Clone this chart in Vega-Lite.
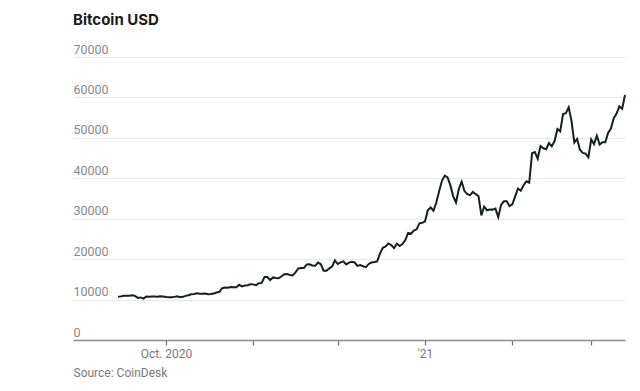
{
  "$schema": "https://vega.github.io/schema/vega-lite/v6.json",
  "autosize": "none",
  "width": 552,
  "height": 283,
  "padding": {"left": 73, "top": 57, "right": 15, "bottom": 51},
  "background": "white",
  "title": {
    "text": "Bitcoin USD",
    "anchor": "start",
    "frame": "group",
    "font": "Inter",
    "fontSize": 15,
    "fontWeight": "bold",
    "color": "#1b1b1b",
    "offset": 15
  },
  "config": {"view": {"stroke": null}},
  "data": {
    "values": [
      {"date": "2020-09-14", "price": 10680},
      {"date": "2020-09-15", "price": 10790},
      {"date": "2020-09-16", "price": 10950},
      {"date": "2020-09-17", "price": 10940},
      {"date": "2020-09-18", "price": 10930},
      {"date": "2020-09-19", "price": 11080},
      {"date": "2020-09-20", "price": 10920},
      {"date": "2020-09-21", "price": 10420},
      {"date": "2020-09-22", "price": 10530},
      {"date": "2020-09-23", "price": 10240},
      {"date": "2020-09-24", "price": 10740},
      {"date": "2020-09-25", "price": 10690},
      {"date": "2020-09-26", "price": 10730},
      {"date": "2020-09-27", "price": 10770},
      {"date": "2020-09-28", "price": 10700},
      {"date": "2020-09-29", "price": 10840},
      {"date": "2020-09-30", "price": 10780},
      {"date": "2020-10-01", "price": 10620},
      {"date": "2020-10-02", "price": 10570},
      {"date": "2020-10-03", "price": 10550},
      {"date": "2020-10-04", "price": 10670},
      {"date": "2020-10-05", "price": 10790},
      {"date": "2020-10-06", "price": 10600},
      {"date": "2020-10-07", "price": 10670},
      {"date": "2020-10-08", "price": 10920},
      {"date": "2020-10-09", "price": 11060},
      {"date": "2020-10-10", "price": 11300},
      {"date": "2020-10-11", "price": 11380},
      {"date": "2020-10-12", "price": 11540},
      {"date": "2020-10-13", "price": 11420},
      {"date": "2020-10-14", "price": 11430},
      {"date": "2020-10-15", "price": 11500},
      {"date": "2020-10-16", "price": 11320},
      {"date": "2020-10-17", "price": 11370},
      {"date": "2020-10-18", "price": 11510},
      {"date": "2020-10-19", "price": 11750},
      {"date": "2020-10-20", "price": 11920},
      {"date": "2020-10-21", "price": 12820},
      {"date": "2020-10-22", "price": 12990},
      {"date": "2020-10-23", "price": 12930},
      {"date": "2020-10-24", "price": 13110},
      {"date": "2020-10-25", "price": 13030},
      {"date": "2020-10-26", "price": 13070},
      {"date": "2020-10-27", "price": 13650},
      {"date": "2020-10-28", "price": 13270},
      {"date": "2020-10-29", "price": 13460},
      {"date": "2020-10-30", "price": 13560},
      {"date": "2020-10-31", "price": 13800},
      {"date": "2020-11-01", "price": 13760},
      {"date": "2020-11-02", "price": 13550},
      {"date": "2020-11-03", "price": 14030},
      {"date": "2020-11-04", "price": 14130},
      {"date": "2020-11-05", "price": 15590},
      {"date": "2020-11-06", "price": 15580},
      {"date": "2020-11-07", "price": 14830},
      {"date": "2020-11-08", "price": 15480},
      {"date": "2020-11-09", "price": 15330},
      {"date": "2020-11-10", "price": 15300},
      {"date": "2020-11-11", "price": 15700},
      {"date": "2020-11-12", "price": 16280},
      {"date": "2020-11-13", "price": 16320},
      {"date": "2020-11-14", "price": 16070},
      {"date": "2020-11-15", "price": 15970},
      {"date": "2020-11-16", "price": 16730},
      {"date": "2020-11-17", "price": 17680},
      {"date": "2020-11-18", "price": 17800},
      {"date": "2020-11-19", "price": 17820},
      {"date": "2020-11-20", "price": 18680},
      {"date": "2020-11-21", "price": 18710},
      {"date": "2020-11-22", "price": 18420},
      {"date": "2020-11-23", "price": 18370},
      {"date": "2020-11-24", "price": 19150},
      {"date": "2020-11-25", "price": 18730},
      {"date": "2020-11-26", "price": 17150},
      {"date": "2020-11-27", "price": 17140},
      {"date": "2020-11-28", "price": 17720},
      {"date": "2020-11-29", "price": 18180},
      {"date": "2020-11-30", "price": 19700},
      {"date": "2020-12-01", "price": 18800},
      {"date": "2020-12-02", "price": 19220},
      {"date": "2020-12-03", "price": 19450},
      {"date": "2020-12-04", "price": 18700},
      {"date": "2020-12-05", "price": 19150},
      {"date": "2020-12-06", "price": 19360},
      {"date": "2020-12-07", "price": 19170},
      {"date": "2020-12-08", "price": 18320},
      {"date": "2020-12-09", "price": 18550},
      {"date": "2020-12-10", "price": 18250},
      {"date": "2020-12-11", "price": 18030},
      {"date": "2020-12-12", "price": 18810},
      {"date": "2020-12-13", "price": 19170},
      {"date": "2020-12-14", "price": 19270},
      {"date": "2020-12-15", "price": 19440},
      {"date": "2020-12-16", "price": 21380},
      {"date": "2020-12-17", "price": 22820},
      {"date": "2020-12-18", "price": 23140},
      {"date": "2020-12-19", "price": 23870},
      {"date": "2020-12-20", "price": 23480},
      {"date": "2020-12-21", "price": 22750},
      {"date": "2020-12-22", "price": 23830},
      {"date": "2020-12-23", "price": 23240},
      {"date": "2020-12-24", "price": 23730},
      {"date": "2020-12-25", "price": 24710},
      {"date": "2020-12-26", "price": 26490},
      {"date": "2020-12-27", "price": 26280},
      {"date": "2020-12-28", "price": 27080},
      {"date": "2020-12-29", "price": 27370},
      {"date": "2020-12-30", "price": 28860},
      {"date": "2020-12-31", "price": 28990},
      {"date": "2021-01-01", "price": 29370},
      {"date": "2021-01-02", "price": 32130},
      {"date": "2021-01-03", "price": 32780},
      {"date": "2021-01-04", "price": 31970},
      {"date": "2021-01-05", "price": 33990},
      {"date": "2021-01-06", "price": 36820},
      {"date": "2021-01-07", "price": 39370},
      {"date": "2021-01-08", "price": 40670},
      {"date": "2021-01-09", "price": 40240},
      {"date": "2021-01-10", "price": 38240},
      {"date": "2021-01-11", "price": 35540},
      {"date": "2021-01-12", "price": 34010},
      {"date": "2021-01-13", "price": 37390},
      {"date": "2021-01-14", "price": 39150},
      {"date": "2021-01-15", "price": 36830},
      {"date": "2021-01-16", "price": 36070},
      {"date": "2021-01-17", "price": 35820},
      {"date": "2021-01-18", "price": 36630},
      {"date": "2021-01-19", "price": 36070},
      {"date": "2021-01-20", "price": 35550},
      {"date": "2021-01-21", "price": 30830},
      {"date": "2021-01-22", "price": 33010},
      {"date": "2021-01-23", "price": 32080},
      {"date": "2021-01-24", "price": 32290},
      {"date": "2021-01-25", "price": 32250},
      {"date": "2021-01-26", "price": 32510},
      {"date": "2021-01-27", "price": 30390},
      {"date": "2021-01-28", "price": 33430},
      {"date": "2021-01-29", "price": 34310},
      {"date": "2021-01-30", "price": 34320},
      {"date": "2021-01-31", "price": 33110},
      {"date": "2021-02-01", "price": 33530},
      {"date": "2021-02-02", "price": 35510},
      {"date": "2021-02-03", "price": 37470},
      {"date": "2021-02-04", "price": 36930},
      {"date": "2021-02-05", "price": 38290},
      {"date": "2021-02-06", "price": 39260},
      {"date": "2021-02-07", "price": 38900},
      {"date": "2021-02-08", "price": 46200},
      {"date": "2021-02-09", "price": 46480},
      {"date": "2021-02-10", "price": 44840},
      {"date": "2021-02-11", "price": 47970},
      {"date": "2021-02-12", "price": 47410},
      {"date": "2021-02-13", "price": 47190},
      {"date": "2021-02-14", "price": 48720},
      {"date": "2021-02-15", "price": 47940},
      {"date": "2021-02-16", "price": 49200},
      {"date": "2021-02-17", "price": 52170},
      {"date": "2021-02-18", "price": 51600},
      {"date": "2021-02-19", "price": 55890},
      {"date": "2021-02-20", "price": 56100},
      {"date": "2021-02-21", "price": 57540},
      {"date": "2021-02-22", "price": 54210},
      {"date": "2021-02-23", "price": 48830},
      {"date": "2021-02-24", "price": 49710},
      {"date": "2021-02-25", "price": 47070},
      {"date": "2021-02-26", "price": 46280},
      {"date": "2021-02-27", "price": 46110},
      {"date": "2021-02-28", "price": 45200},
      {"date": "2021-03-01", "price": 49610},
      {"date": "2021-03-02", "price": 48440},
      {"date": "2021-03-03", "price": 50550},
      {"date": "2021-03-04", "price": 48360},
      {"date": "2021-03-05", "price": 48920},
      {"date": "2021-03-06", "price": 48910},
      {"date": "2021-03-07", "price": 51210},
      {"date": "2021-03-08", "price": 52300},
      {"date": "2021-03-09", "price": 54880},
      {"date": "2021-03-10", "price": 55990},
      {"date": "2021-03-11", "price": 57770},
      {"date": "2021-03-12", "price": 57220},
      {"date": "2021-03-13", "price": 60600}
    ]
  },
  "mark": {"type": "line", "color": "#15211d", "strokeWidth": 2, "clip": false},
  "encoding": {
    "x": {
      "field": "date",
      "type": "temporal",
      "scale": {
        "type": "utc",
        "domain": [
          {"year": 2020, "month": "aug", "date": 29, "utc": true},
          {"year": 2021, "month": "mar", "date": 13, "utc": true}
        ]
      },
      "axis": {
        "values": [
          {"year": 2020, "month": "oct", "date": 1, "utc": true},
          {"year": 2020, "month": "nov", "date": 1, "utc": true},
          {"year": 2020, "month": "dec", "date": 1, "utc": true},
          {"year": 2021, "month": "jan", "date": 1, "utc": true},
          {"year": 2021, "month": "feb", "date": 1, "utc": true},
          {"year": 2021, "month": "mar", "date": 1, "utc": true}
        ],
        "labelExpr": "utcmonth(datum.value) == 9 ? 'Oct. 2020' : (utcmonth(datum.value) == 0 ? \"'21\" : '')",
        "grid": false,
        "domainColor": "#8c8c8c",
        "domainWidth": 1.5,
        "tickColor": "#6e6e6e",
        "tickSize": 5,
        "tickWidth": 1.2,
        "labelFont": "Roboto",
        "labelFontSize": 12,
        "labelColor": "#7a7a7a",
        "labelPadding": 3,
        "title": "Source: CoinDesk",
        "titleFont": "Roboto",
        "titleFontSize": 12,
        "titleFontWeight": "normal",
        "titleColor": "#7a7a7a",
        "titleAnchor": "start",
        "titleAlign": "left",
        "titlePadding": 8
      }
    },
    "y": {
      "field": "price",
      "type": "quantitative",
      "scale": {"domain": [0, 70000], "nice": false},
      "axis": {
        "values": [0, 10000, 20000, 30000, 40000, 50000, 60000, 70000],
        "format": "d",
        "title": null,
        "domain": false,
        "ticks": false,
        "grid": true,
        "gridColor": "#e9e9e9",
        "gridWidth": 1.2,
        "labelAlign": "left",
        "labelBaseline": "alphabetic",
        "labelOffset": -4,
        "labelPadding": 0,
        "labelFont": "Roboto",
        "labelFontSize": 12.5,
        "labelColor": "#8a8a8a"
      }
    }
  }
}
